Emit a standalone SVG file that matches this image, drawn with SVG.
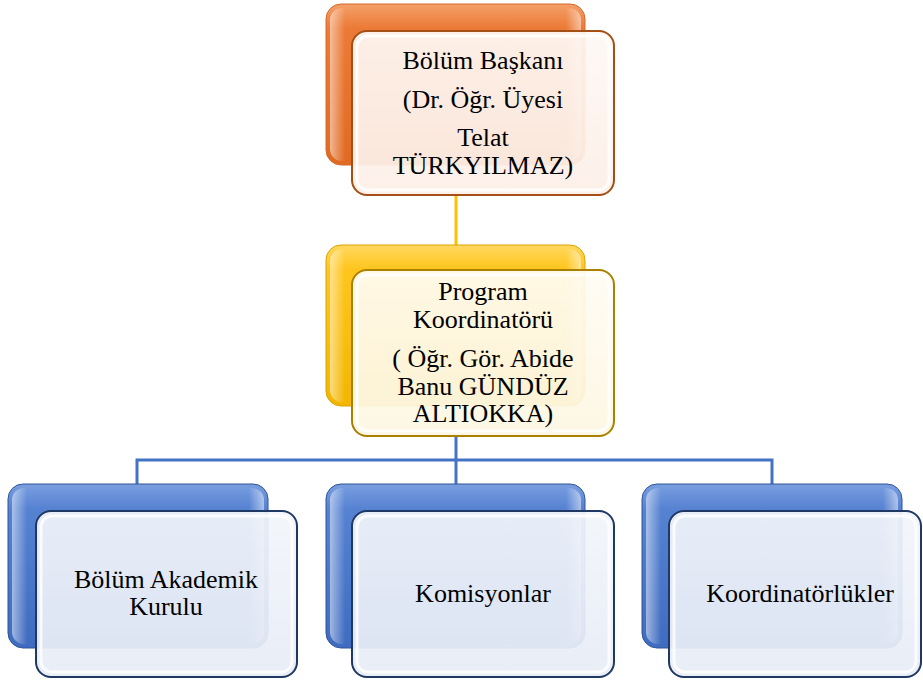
<svg xmlns="http://www.w3.org/2000/svg" width="923" height="682" viewBox="0 0 923 682">
<defs>
<linearGradient id="gOr" x1="0" y1="0" x2="0" y2="1"><stop offset="0" stop-color="#F4A06A"/><stop offset="0.15" stop-color="#EC7A36"/><stop offset="1" stop-color="#E06A22"/></linearGradient>
<linearGradient id="gYe" x1="0" y1="0" x2="0" y2="1"><stop offset="0" stop-color="#FFD860"/><stop offset="0.15" stop-color="#FFC51C"/><stop offset="1" stop-color="#F2B600"/></linearGradient>
<linearGradient id="gBl" x1="0" y1="0" x2="0" y2="1"><stop offset="0" stop-color="#7A9FE0"/><stop offset="0.15" stop-color="#5682D2"/><stop offset="1" stop-color="#3F6CC0"/></linearGradient>
<linearGradient id="fOr" x1="0" y1="0" x2="0" y2="1"><stop offset="0" stop-color="#FEF8F4"/><stop offset="1" stop-color="#FCEFE7"/></linearGradient>
<linearGradient id="fYe" x1="0" y1="0" x2="0" y2="1"><stop offset="0" stop-color="#FFFCF3"/><stop offset="1" stop-color="#FDF6E2"/></linearGradient>
<linearGradient id="fBl" x1="0" y1="0" x2="0" y2="1"><stop offset="0" stop-color="#F2F5FA"/><stop offset="1" stop-color="#E7ECF6"/></linearGradient>
<linearGradient id="shine" x1="0" y1="0" x2="1" y2="0"><stop offset="0" stop-color="#fff" stop-opacity="0.5"/><stop offset="0.06" stop-color="#fff" stop-opacity="0"/><stop offset="0.94" stop-color="#fff" stop-opacity="0"/><stop offset="1" stop-color="#fff" stop-opacity="0.5"/></linearGradient>
</defs>
<style>
text{font-family:"Liberation Serif","Times New Roman",serif;font-size:26px;fill:#000;text-anchor:middle}
.back{stroke-width:1}
.front{stroke-width:2}
.hl{fill:url(#shine)}
.inner{fill:none;stroke:#fff;stroke-opacity:0.8;stroke-width:3}
</style>
<g id="connectors" fill="none" stroke-width="3">
<line x1="456" y1="195" x2="456" y2="245" stroke="#FFC000"/>
<polyline points="456,437 456,460" stroke="#4472C4"/>
<polyline points="137,485 137,460 772,460 772,485" stroke="#4472C4"/>
<line x1="456" y1="460" x2="456" y2="485" stroke="#4472C4"/>
</g>
<g id="n1">
<rect class="back" x="326" y="4" width="259" height="161" rx="15" fill="url(#gOr)" stroke="#D56A28"/>
<rect x="330" y="8" width="251" height="153" rx="12" class="hl"/>
<rect class="front" x="352" y="31" width="262" height="164" rx="15" fill="url(#fOr)" fill-opacity="0.93" stroke="#A34F15"/>
<rect class="inner" x="357" y="36" width="252" height="154" rx="11"/>
<text x="483" y="69">Bölüm Başkanı</text>
<text x="483" y="108">(Dr. Öğr. Üyesi</text>
<text x="483" y="146">Telat</text>
<text x="483" y="174">TÜRKYILMAZ)</text>
</g>
<g id="n2">
<rect class="back" x="326" y="245" width="259" height="161" rx="15" fill="url(#gYe)" stroke="#D9A400"/>
<rect x="330" y="249" width="251" height="153" rx="12" class="hl"/>
<rect class="front" x="352" y="270" width="262" height="166" rx="15" fill="url(#fYe)" fill-opacity="0.93" stroke="#A98000"/>
<rect class="inner" x="357" y="275" width="252" height="156" rx="11"/>
<text x="483" y="300">Program</text>
<text x="483" y="328">Koordinatörü</text>
<text x="483" y="367">( Öğr. Gör. Abide</text>
<text x="483" y="395">Banu GÜNDÜZ</text>
<text x="483" y="422">ALTIOKKA)</text>
</g>
<g id="n3">
<rect class="back" x="8" y="484" width="260" height="164" rx="15" fill="url(#gBl)" stroke="#2F5597"/>
<rect x="12" y="488" width="252" height="156" rx="12" class="hl"/>
<rect class="front" x="36" y="511" width="261" height="166" rx="15" fill="url(#fBl)" fill-opacity="0.93" stroke="#1F3864"/>
<rect class="inner" x="41" y="516" width="251" height="156" rx="11"/>
<text x="166" y="588">Bölüm Akademik</text>
<text x="166" y="615">Kurulu</text>
</g>
<g id="n4">
<rect class="back" x="326" y="484" width="259" height="164" rx="15" fill="url(#gBl)" stroke="#2F5597"/>
<rect x="330" y="488" width="251" height="156" rx="12" class="hl"/>
<rect class="front" x="352" y="511" width="262" height="166" rx="15" fill="url(#fBl)" fill-opacity="0.93" stroke="#1F3864"/>
<rect class="inner" x="357" y="516" width="252" height="156" rx="11"/>
<text x="483" y="602">Komisyonlar</text>
</g>
<g id="n5">
<rect class="back" x="642" y="484" width="260" height="164" rx="15" fill="url(#gBl)" stroke="#2F5597"/>
<rect x="646" y="488" width="252" height="156" rx="12" class="hl"/>
<rect class="front" x="669" y="511" width="252" height="166" rx="15" fill="url(#fBl)" fill-opacity="0.93" stroke="#1F3864"/>
<rect class="inner" x="674" y="516" width="242" height="156" rx="11"/>
<text x="800" y="602">Koordinatörlükler</text>
</g>
</svg>
